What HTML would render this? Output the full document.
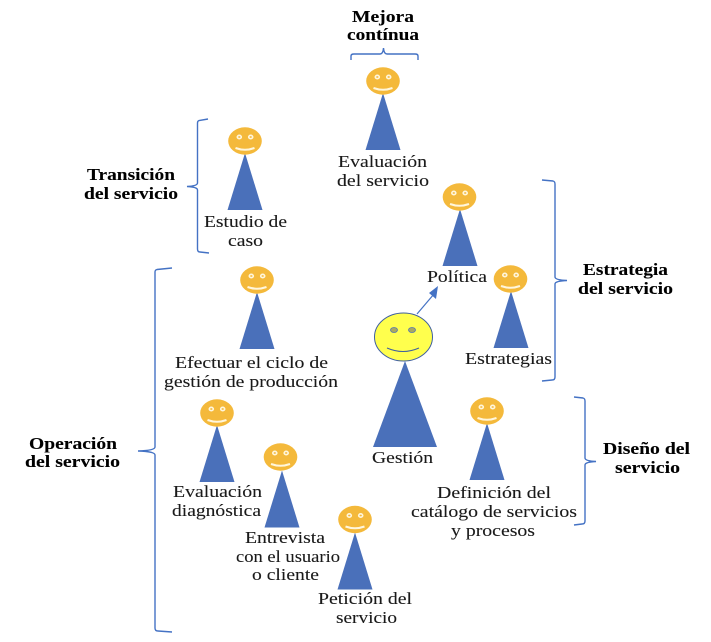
<!DOCTYPE html>
<html><head><meta charset="utf-8"><style>
html,body{margin:0;padding:0;background:#fff}
svg{display:block;filter:blur(.35px)}
text{font-family:"Liberation Serif",serif;font-size:17px;fill:#1a1a1a;stroke:#1a1a1a;stroke-width:.1px}
.b{font-weight:bold;fill:#000;stroke:#000}
.br{fill:none;stroke:#4472c4;stroke-width:1.4}
.t{fill:#4a70ba}
.f{fill:#f4b93b}
.e{fill:#f4b93b;stroke:#fff6dc;stroke-width:1.6}
.m{fill:none;stroke:#fff6dc;stroke-width:2}
</style></head><body>
<svg width="711" height="642" viewBox="0 0 711 642" xmlns="http://www.w3.org/2000/svg">
<defs>
<g id="tr">
<polygon class="t" points="0,12 -17.500,69 17.500,69"/>
</g>
<g id="fc">
<ellipse class="f" cx="0" cy="0" rx="16.800" ry="13.700"/>
<ellipse class="e" cx="-5.700" cy="-4" rx="2" ry="1.700"/>
<ellipse class="e" cx="5.700" cy="-4" rx="2" ry="1.700"/>
<path class="m" d="M-9.500,7 Q0,10.500 9.500,7"/>
</g>
</defs>

<use href="#tr" x="383" y="81"/><use href="#fc" x="383" y="81"/>
<use href="#tr" x="245" y="141"/><use href="#fc" x="245" y="141"/>
<use href="#tr" x="460" y="197"/><use href="#fc" x="459.500" y="197"/>
<use href="#tr" x="511" y="279"/><use href="#fc" x="510.500" y="279"/>
<use href="#tr" x="257" y="280"/><use href="#fc" x="257" y="280"/>
<use href="#tr" x="487" y="411"/><use href="#fc" x="487" y="411"/>
<use href="#tr" x="217" y="413"/><use href="#fc" x="217" y="413"/>
<use href="#tr" x="282" y="458.500"/><use href="#fc" x="280.500" y="457"/>
<use href="#tr" x="355" y="520.500"/><use href="#fc" x="355" y="519.500"/>

<polygon class="t" points="405,361 373,447 437,447"/>
<ellipse cx="403.500" cy="337" rx="29" ry="24" fill="#ffff4d" stroke="#3f5f9f" stroke-width="1"/>
<ellipse cx="394" cy="330" rx="3.500" ry="2.500" fill="#a9a860" stroke="#4f71b8" stroke-width=".8"/>
<ellipse cx="412" cy="330" rx="3.500" ry="2.500" fill="#a9a860" stroke="#4f71b8" stroke-width=".8"/>
<path d="M387,348 Q403,355 419,348" fill="none" stroke="#3f5f9f" stroke-width="1"/>

<line x1="417" y1="314" x2="434" y2="294" stroke="#4472c4" stroke-width="1.200"/>
<polygon points="438,286 429,293 436,299" fill="#4472c4"/>

<path class="br" d="M351,60 V56 Q351,54 354,54 H380 Q383,54 383.500,48 Q384,54 387,54 H415 Q418,54 418,56 V60"/>
<path class="br" d="M208,119 L199,120.500 Q197.500,121 197.500,123 V183 Q197.500,186 187,186.500 Q197.500,187 197.500,190 V249 Q197.500,252 200,252 L209,253"/>
<path class="br" d="M172,268 L157,269.500 Q155,270 155,272 V447 Q155,450.500 138,451 Q155,451.500 155,455 V628 Q155,631 158,631 L172,632"/>
<path class="br" d="M542,180 L553,181 Q555,181.500 555,184 V277 Q555,280 567,280.500 Q555,281 555,284 V377 Q555,380 552,380 L542,381"/>
<path class="br" d="M574,397 L583,398 Q585,398.500 585,401 V458 Q585,461 596,461.500 Q585,462 585,465 V521 Q585,524 582,524 L574,525"/>

<text class="b" x="352" y="22" textLength="62" lengthAdjust="spacingAndGlyphs">Mejora</text>
<text class="b" x="347" y="40" textLength="72" lengthAdjust="spacingAndGlyphs">contínua</text>
<text x="338" y="167" textLength="89" lengthAdjust="spacingAndGlyphs">Evaluación</text>
<text x="337" y="186" textLength="92" lengthAdjust="spacingAndGlyphs">del servicio</text>
<text class="b" x="87" y="180" textLength="88" lengthAdjust="spacingAndGlyphs">Transición</text>
<text class="b" x="84" y="199" textLength="94" lengthAdjust="spacingAndGlyphs">del servicio</text>
<text x="204" y="227" textLength="83" lengthAdjust="spacingAndGlyphs">Estudio de</text>
<text x="228" y="246" textLength="35" lengthAdjust="spacingAndGlyphs">caso</text>
<text x="427" y="282" textLength="60" lengthAdjust="spacingAndGlyphs">Política</text>
<text class="b" x="583" y="275" textLength="85" lengthAdjust="spacingAndGlyphs">Estrategia</text>
<text class="b" x="578" y="294" textLength="95" lengthAdjust="spacingAndGlyphs">del servicio</text>
<text x="465" y="364" textLength="87" lengthAdjust="spacingAndGlyphs">Estrategias</text>
<text x="175" y="368" textLength="153" lengthAdjust="spacingAndGlyphs">Efectuar el ciclo de</text>
<text x="164" y="387" textLength="174" lengthAdjust="spacingAndGlyphs">gestión de producción</text>
<text x="372" y="463" textLength="61" lengthAdjust="spacingAndGlyphs">Gestión</text>
<text class="b" x="603" y="454" textLength="87" lengthAdjust="spacingAndGlyphs">Diseño del</text>
<text class="b" x="615" y="473" textLength="65" lengthAdjust="spacingAndGlyphs">servicio</text>
<text x="437" y="498" textLength="114" lengthAdjust="spacingAndGlyphs">Definición del</text>
<text x="411" y="517" textLength="166" lengthAdjust="spacingAndGlyphs">catálogo de servicios</text>
<text x="451" y="536" textLength="84" lengthAdjust="spacingAndGlyphs">y procesos</text>
<text class="b" x="29" y="449" textLength="88" lengthAdjust="spacingAndGlyphs">Operación</text>
<text class="b" x="25" y="467" textLength="95" lengthAdjust="spacingAndGlyphs">del servicio</text>
<text x="173" y="497" textLength="89" lengthAdjust="spacingAndGlyphs">Evaluación</text>
<text x="172" y="516" textLength="89" lengthAdjust="spacingAndGlyphs">diagnóstica</text>
<text x="245" y="543" textLength="80" lengthAdjust="spacingAndGlyphs">Entrevista</text>
<text x="236" y="562" textLength="104" lengthAdjust="spacingAndGlyphs">con el usuario</text>
<text x="252" y="580" textLength="67" lengthAdjust="spacingAndGlyphs">o cliente</text>
<text x="318" y="604" textLength="94" lengthAdjust="spacingAndGlyphs">Petición del</text>
<text x="336" y="623" textLength="61" lengthAdjust="spacingAndGlyphs">servicio</text>
</svg>
</body></html>
